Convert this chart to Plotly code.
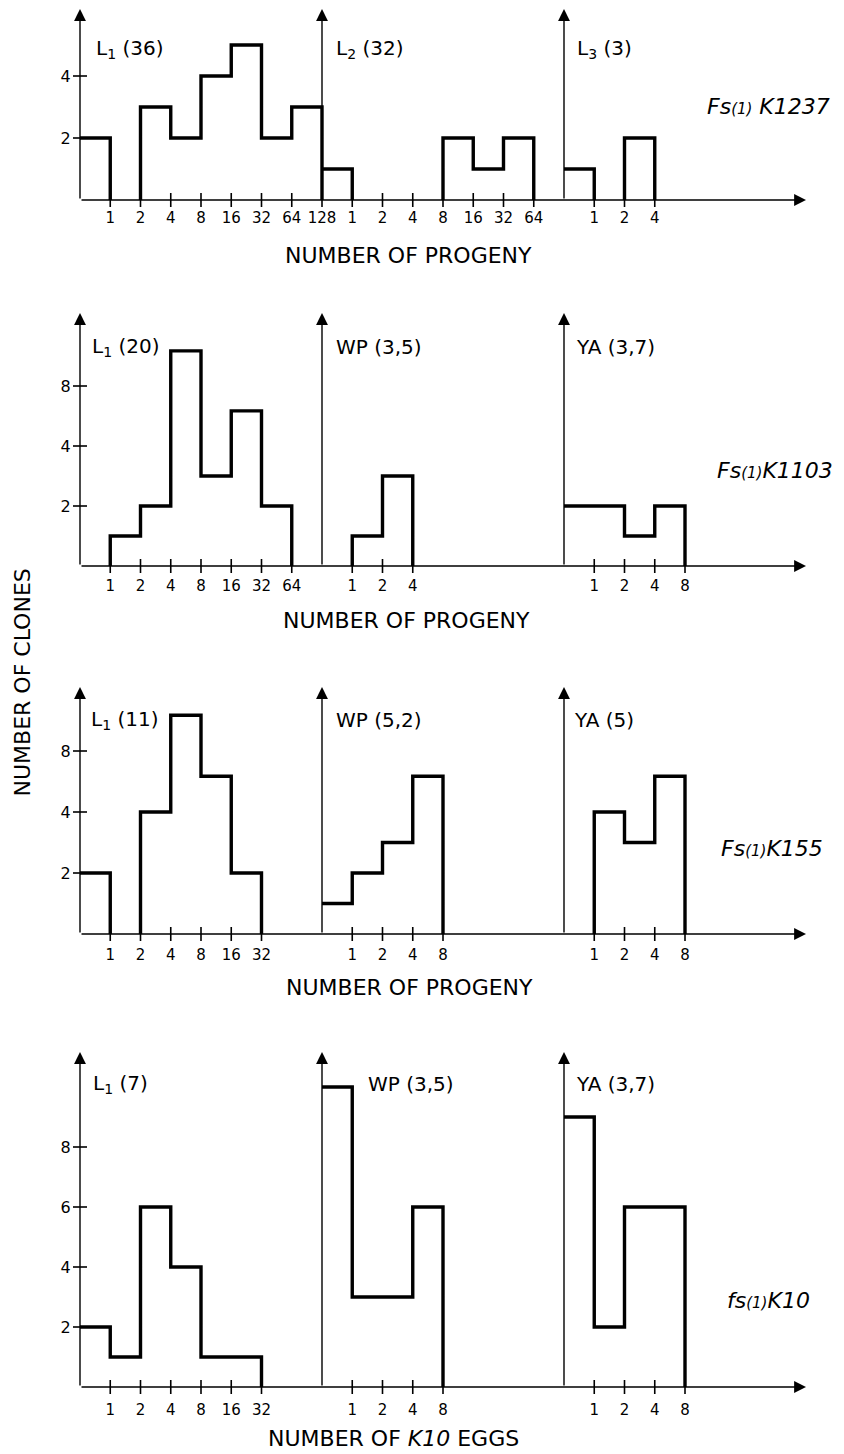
import math
import plotly.graph_objects as go

# ---------------- data ----------------
# counts of clones per progeny class; bin 0 = class below tick "1"
R1_L1 = [2, 0, 3, 2, 4, 5, 2, 3]
R1_L2 = [1, 0, 0, 0, 2, 1, 2]
R1_L3 = [1, 0, 2]

R2_L1 = [0, 1, 2, 12, 3, 6, 2]
R2_WP = [0, 1, 3]
R2_YA = [2, 2, 1, 2]

R3_L1 = [2, 0, 4, 12, 6, 2]
R3_WP = [1, 2, 3, 6]
R3_YA = [0, 4, 3, 6]

R4_L1 = [2, 1, 6, 4, 1, 1]
R4_WP = [10, 3, 3, 6]
R4_YA = [9, 2, 6, 6]

R1_XT = [["1", "2", "4", "8", "16", "32", "64", "128"], ["1", "2", "4", "8", "16", "32", "64"], ["1", "2", "4"]]
R2_XT = [["1", "2", "4", "8", "16", "32", "64"], ["1", "2", "4"], ["1", "2", "4", "8"]]
R3_XT = [["1", "2", "4", "8", "16", "32"], ["1", "2", "4", "8"], ["1", "2", "4", "8"]]
R4_XT = [["1", "2", "4", "8", "16", "32"], ["1", "2", "4", "8"], ["1", "2", "4", "8"]]

R1_YT = [2, 4]
R2_YT = [2, 4, 8]
R3_YT = [2, 4, 8]
R4_YT = [2, 4, 6, 8]

R1_LAB = ["L<sub>1</sub> (36)", "L<sub>2</sub> (32)", "L<sub>3</sub> (3)"]
R2_LAB = ["L<sub>1</sub> (20)", "WP (3,5)", "YA (3,7)"]
R3_LAB = ["L<sub>1</sub> (11)", "WP (5,2)", "YA (5)"]
R4_LAB = ["L<sub>1</sub> (7)", "WP (3,5)", "YA (3,7)"]

GENES = ['<i>Fs<span style="font-size:15px">(1)</span> K1237</i>',
         '<i>Fs<span style="font-size:15px">(1)</span>K1103</i>',
         '<i>Fs<span style="font-size:15px">(1)</span>K155</i>',
         '<i>fs<span style="font-size:15px">(1)</span>K10</i>']
XTITLES = ["NUMBER OF PROGENY", "NUMBER OF PROGENY", "NUMBER OF PROGENY",
           "NUMBER OF <i>K10</i> EGGS"]
YTITLE = "NUMBER OF CLONES"

# ---------------- layout constants ----------------
PAGE = 8                      # default body margin of the html page
W, H = 844 - PAGE, 1454 - PAGE
X0_PX, UNIT_PX = 80.0 - PAGE, 30.25   # figure pixel of panel-1 origin, px per class
PANEL_OFF = [0, 8, 16]
X_END = 24.0

def lin(v):
    return v

def comp(v):  # axis compressed above 4 (2,4,8 equally spaced)
    return v if v <= 4 else 4 + 2 * math.log2(v / 4)

ROWS = [
    dict(data=[R1_L1, R1_L2, R1_L3], xt=R1_XT, yt=R1_YT, lab=R1_LAB, f=lin,
         B=200, T=9, p=31.0, xlen=4, labx=[94, 334, 575], laby=49, geney=107,
         genex=768, tx=408, ty=255),
    dict(data=[R2_L1, R2_WP, R2_YA], xt=R2_XT, yt=R2_YT, lab=R2_LAB, f=comp,
         B=566, T=313, p=30.0, xlen=6, labx=[90, 334, 574], laby=347, geney=471,
         genex=775, tx=406, ty=620),
    dict(data=[R3_L1, R3_WP, R3_YA], xt=R3_XT, yt=R3_YT, lab=R3_LAB, f=comp,
         B=934, T=687, p=30.5, xlen=7, labx=[89, 334, 572], laby=720, geney=848,
         genex=772, tx=409, ty=987),
    dict(data=[R4_L1, R4_WP, R4_YA], xt=R4_XT, yt=R4_YT, lab=R4_LAB, f=lin,
         B=1387, T=1052, p=30.0, xlen=9, labx=[91, 366, 574], laby=1084, geney=1300,
         genex=768, tx=393, ty=1438),
]

TEXT_FONT = "DejaVu Sans, sans-serif"
TICK_FONT = dict(family=TEXT_FONT, size=15, color="black")

def px(xp, yp):
    """page pixel -> paper fraction"""
    return (xp - PAGE) / W, 1 - (yp - PAGE) / H

fig = go.Figure()
annotations = []
layout_axes = {}

for r, row in enumerate(ROWS):
    n = r + 1
    xa = "x" if n == 1 else f"x{n}"
    ya = "y" if n == 1 else f"y{n}"
    f = row["f"]
    B, T = row["B"] - PAGE, row["T"] - PAGE
    ytop = (B - T) / row["p"]

    # histogram outlines
    for k, vals in enumerate(row["data"]):
        off = PANEL_OFF[k]
        xs, ys = [], []
        prev = 0
        for i, v in enumerate(vals):
            left, right = off + i, off + i + 1
            h = f(v) if v > 0 else 0
            if h > 0:
                if i == 0:
                    xs.append(left); ys.append(h)
                elif prev == 0:
                    xs += [left, left]; ys += [0, h]
                else:
                    xs.append(left); ys.append(h)
                xs.append(right); ys.append(h)
            else:
                if prev > 0:
                    xs.append(left); ys.append(0)
                    xs.append(None); ys.append(None)
            prev = h
        if prev > 0:
            xs.append(off + len(vals)); ys.append(0)
        fig.add_trace(go.Scatter(x=xs, y=ys, mode="lines", xaxis=xa, yaxis=ya,
                                 line=dict(color="black", width=3.4),
                                 cliponaxis=False,
                                 hoverinfo="skip", showlegend=False))

    # x tick marks and labels
    tpos, ttxt = [], []
    for k, labels in enumerate(row["xt"]):
        for j, t in enumerate(labels):
            tpos.append(PANEL_OFF[k] + j + 1)
            ttxt.append(t)
    fig.add_trace(go.Scatter(x=tpos, y=[0] * len(tpos), mode="markers", xaxis=xa, yaxis=ya,
                             marker=dict(symbol="line-ns-open", size=10, color="black",
                                         line=dict(color="black", width=1.6)),
                             cliponaxis=False,
                             hoverinfo="skip", showlegend=False))
    yv = [f(c) for c in row["yt"]]
    fig.add_trace(go.Scatter(x=[0] * len(yv), y=yv, mode="markers", xaxis=xa, yaxis=ya,
                             marker=dict(symbol="line-ew-open", size=10, color="black",
                                         line=dict(color="black", width=1.6)),
                             cliponaxis=False,
                             hoverinfo="skip", showlegend=False))

    layout_axes["xaxis" if n == 1 else f"xaxis{n}"] = dict(
        domain=[0, 1], range=[-X0_PX / UNIT_PX, (W - X0_PX) / UNIT_PX],
        anchor=ya, showgrid=False, zeroline=False, showline=False,
        tickmode="array", tickvals=tpos, ticktext=ttxt,
        ticks="outside", ticklen=row["xlen"], tickcolor="rgba(0,0,0,0)",
        tickfont=TICK_FONT, fixedrange=True)
    layout_axes["yaxis" if n == 1 else f"yaxis{n}"] = dict(
        domain=[(H - B) / H, (H - T) / H], range=[0, ytop],
        anchor="free", position=X0_PX / W, showgrid=False, zeroline=False,
        showline=False, tickmode="array", tickvals=yv,
        ticktext=[str(c) for c in row["yt"]], ticks="outside", ticklen=6,
        tickcolor="rgba(0,0,0,0)",
        tickfont=dict(family=TEXT_FONT, size=16, color="black"),
        fixedrange=True)

    # axes with arrows
    for off in PANEL_OFF:
        annotations.append(dict(x=off, y=ytop, ax=off, ay=0, xref=xa, yref=ya,
                                axref=xa, ayref=ya, text="", showarrow=True,
                                arrowhead=2, arrowsize=1.7, arrowwidth=1.4,
                                arrowcolor="black", standoff=0))
    annotations.append(dict(x=X_END, y=0, ax=0, ay=0, xref=xa, yref=ya,
                            axref=xa, ayref=ya, text="", showarrow=True,
                            arrowhead=2, arrowsize=1.7, arrowwidth=1.4,
                            arrowcolor="black", standoff=0))

    # panel labels
    for k, lab in enumerate(row["lab"]):
        xp, yp = px(row["labx"][k], row["laby"])
        annotations.append(dict(x=xp, y=yp, xref="paper", yref="paper", text=lab,
                                showarrow=False, xanchor="left", yanchor="middle",
                                font=dict(family=TEXT_FONT, size=20, color="black")))
    # gene name
    xp, yp = px(row["genex"], row["geney"])
    annotations.append(dict(x=xp, y=yp, xref="paper", yref="paper", text=GENES[r],
                            showarrow=False, xanchor="center", yanchor="middle",
                            font=dict(family=TEXT_FONT, size=22, color="black")))
    # x title
    xp, yp = px(row["tx"], row["ty"])
    annotations.append(dict(x=xp, y=yp, xref="paper", yref="paper", text=XTITLES[r],
                            showarrow=False, xanchor="center", yanchor="middle",
                            font=dict(family=TEXT_FONT, size=22, color="black")))

xp, yp = px(PAGE, 683)
annotations.append(dict(x=xp, y=yp, xref="paper", yref="paper", text=YTITLE,
                        showarrow=False, textangle=-90, xanchor="left", yanchor="middle",
                        borderpad=0,
                        font=dict(family=TEXT_FONT, size=22, color="black")))

fig.update_layout(width=W, height=H, margin=dict(l=0, r=0, t=0, b=0),
                  paper_bgcolor="white", plot_bgcolor="rgba(0,0,0,0)",
                  showlegend=False, annotations=annotations, **layout_axes)

fig.write_html("out.html")
